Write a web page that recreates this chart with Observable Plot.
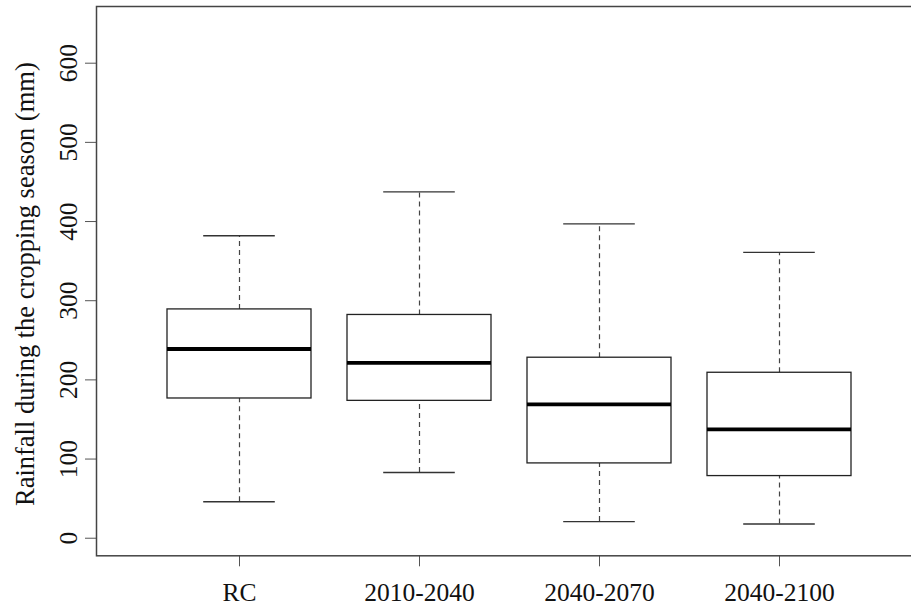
<!DOCTYPE html>
<html><head><meta charset="utf-8">
<script src="https://cdn.jsdelivr.net/npm/d3@7"></script>
<script src="https://cdn.jsdelivr.net/npm/@observablehq/plot@0.6"></script>
<style>
html,body{margin:0;padding:0;background:#fff;overflow:hidden;width:911px;height:608px}
#chart{width:911px;height:608px;overflow:hidden;position:relative}
#chart svg{max-width:none !important;width:960px !important;height:608px !important;display:block}
</style></head><body><div id="chart"></div>
<script>
const periods = ["RC", "2010-2040", "2040-2070", "2040-2100"];
const whiskerLow = [46, 83, 21, 18];
const q1 = [176.5, 173.5, 94.5, 78.5];
const medians = [239, 221.5, 169, 137.5];
const q3 = [289, 282, 228, 209];
const whiskerHigh = [382, 437.5, 397, 361];
const yTicks = [0, 100, 200, 300, 400, 500, 600];
const yLabel = "Rainfall during the cropping season (mm)";

const data = periods.map((p, i) => ({
  period: p, lo: whiskerLow[i], q1: q1[i], med: medians[i], q3: q3[i], hi: whiskerHigh[i]
}));

const chart = Plot.plot({
  width: 960,
  height: 608,
  marginLeft: 96,
  marginRight: 0,
  marginTop: 6,
  marginBottom: 52.7,
  style: {fontFamily: "'Liberation Serif', 'Times New Roman', serif", fontSize: "25.5px", background: "#fff", color: "#111", maxWidth: "none"},
  x: {type: "band", domain: periods, range: [146.85, 870.45], paddingInner: 0.2, paddingOuter: 0.1},
  y: {domain: [-22.2, 671.6]},
  marks: [
    Plot.ruleX(data, {x: "period", y1: "q3", y2: "hi", stroke: "#444", strokeWidth: 1.2, strokeDasharray: "5,4"}),
    Plot.ruleX(data, {x: "period", y1: "lo", y2: "q1", stroke: "#444", strokeWidth: 1.2, strokeDasharray: "5,4"}),
    Plot.tickY(data, {x: "period", y: "hi", insetLeft: 36.2, insetRight: 36.2, stroke: "#333", strokeWidth: 1.4}),
    Plot.tickY(data, {x: "period", y: "lo", insetLeft: 36.2, insetRight: 36.2, stroke: "#333", strokeWidth: 1.4}),
    Plot.barY(data, {x: "period", y1: "q1", y2: "q3", fill: "#fff", stroke: "#222", strokeWidth: 1.3}),
    Plot.tickY(data, {x: "period", y: "med", stroke: "#000", strokeWidth: 3.8}),
    Plot.axisY({ticks: yTicks, tickSize: 11, tickPadding: 9, tickRotate: -90, label: null, stroke: "#555"}),
    Plot.axisX({tickSize: 11, tickPadding: 16, label: null, stroke: "#555"}),
    Plot.text([yLabel], {text: d => d, frameAnchor: "left", rotate: -90, lineAnchor: "bottom", textAnchor: "middle", dx: -63, dy: 3, fontSize: 26.5, fill: "#111"}),
    Plot.frame({stroke: "#444", strokeWidth: 1.5})
  ]
});
document.getElementById("chart").appendChild(chart);
</script>
</body></html>
